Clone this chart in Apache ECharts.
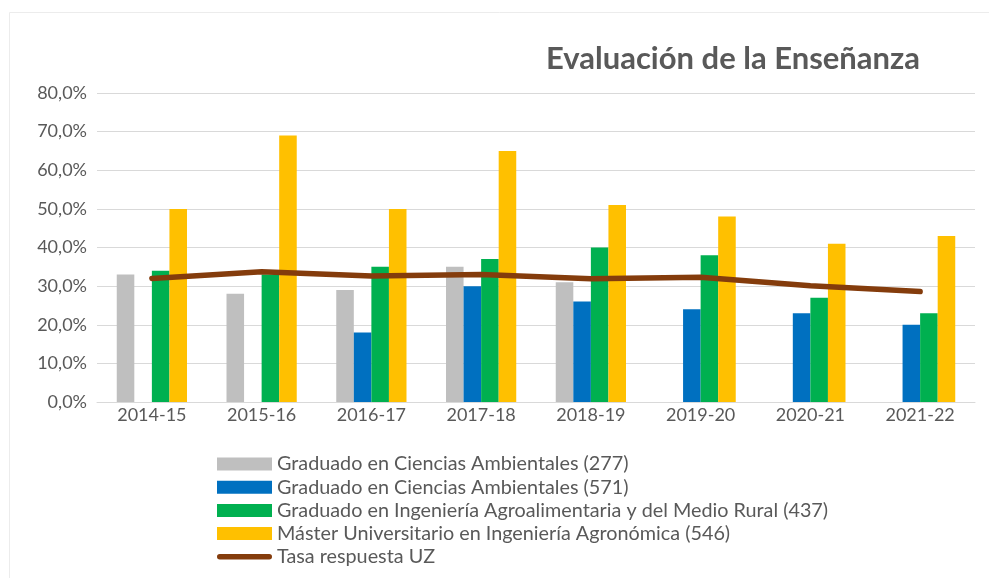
<!DOCTYPE html>
<html>
<head>
<meta charset="utf-8">
<script src="https://cdn.jsdelivr.net/npm/echarts@6/dist/echarts.min.js"></script>
<style>html,body{margin:0;padding:0;background:#fff;}#c{width:989px;height:578px;}</style>
</head>
<body>
<div id="c"></div>
<script>
const categories = ['2014-15','2015-16','2016-17','2017-18','2018-19','2019-20','2020-21','2021-22'];
const cienciasAmb277 = [33, 28, 29, 35, 31, null, null, null];
const cienciasAmb571 = [null, null, 18, 30, 26, 24, 23, 20];
const ingAgro437 = [34, 33, 35, 37, 40, 38, 27, 23];
const masterAgro546 = [50, 69, 50, 65, 51, 48, 41, 43];
const tasaUZ = [32.0, 33.7, 32.6, 33.0, 31.9, 32.3, 30.1, 28.6];
const yTicks = [0, 10, 20, 30, 40, 50, 60, 70, 80];

const names = [
  'Graduado en Ciencias Ambientales (277)',
  'Graduado en Ciencias Ambientales (571)',
  'Graduado en Ingeniería Agroalimentaria y del Medio Rural (437)',
  'Máster Universitario en Ingeniería Agronómica (546)',
  'Tasa respuesta UZ'
];
const colors = ['#BFBFBF', '#0070C0', '#00B050', '#FFC000', '#843C0C'];
const font = 'Lato, "Open Sans", sans-serif';
const txt = '#595959';

const chart = echarts.init(document.getElementById('c'));
function bar(i, data) {
  return {
    name: names[i], type: 'bar', data: data,
    itemStyle: { color: colors[i] },
    barGap: '0%', barCategoryGap: '36%'
  };
}
const lineIcon = 'path://M0,0 L0.01,0 L0,0.01 Z M2.75,3.75 L52.25,3.75 A2.75,2.75 0 0 1 52.25,9.25 L2.75,9.25 A2.75,2.75 0 0 1 2.75,3.75 Z M55,13 L54.99,13 L55,12.99 Z';
chart.setOption({
  animation: false,
  backgroundColor: '#fff',
  graphic: [{
    type: 'rect', left: 7, top: 10, shape: { width: 990, height: 580 },
    style: { fill: 'none', stroke: '#ececec', lineWidth: 1 }, silent: true, z: -1
  }],
  title: {
    text: 'Evaluación de la Enseñanza',
    left: 541, top: 38,
    textStyle: { fontFamily: font, fontSize: 31, fontWeight: 'bold', color: txt }
  },
  grid: { left: 97, right: 14, top: 93, bottom: 176, containLabel: false },
  legend: {
    orient: 'vertical', left: 212, top: 449,
    itemWidth: 55, itemHeight: 13, itemGap: 3.2,
    textStyle: { fontFamily: font, fontSize: 19.8, lineHeight: 20, color: txt, padding: [0, 0, 0, 0] },
    data: [
      { name: names[0], icon: 'rect' },
      { name: names[1], icon: 'rect' },
      { name: names[2], icon: 'rect' },
      { name: names[3], icon: 'rect' },
      { name: names[4], icon: lineIcon }
    ]
  },
  xAxis: {
    type: 'category', data: categories,
    axisLine: { lineStyle: { color: '#d9d9d9', width: 1 } },
    axisTick: { show: false },
    axisLabel: { fontFamily: font, fontSize: 18, color: txt, margin: 4 }
  },
  yAxis: {
    type: 'value', min: yTicks[0], max: yTicks[yTicks.length - 1], interval: 10,
    axisLine: { show: false }, axisTick: { show: false },
    splitLine: { lineStyle: { color: '#d9d9d9', width: 1 } },
    axisLabel: {
      fontFamily: font, fontSize: 18, color: txt, margin: 10,
      formatter: v => v.toFixed(1).replace('.', ',') + '%'
    }
  },
  series: [
    bar(0, cienciasAmb277),
    bar(1, cienciasAmb571),
    bar(2, ingAgro437),
    bar(3, masterAgro546),
    {
      name: names[4], type: 'line', data: tasaUZ,
      symbol: 'none', smooth: false,
      lineStyle: { color: colors[4], width: 5.5, cap: 'round', join: 'round' },
      itemStyle: { color: colors[4] }, z: 5
    }
  ]
});
</script>
</body>
</html>
